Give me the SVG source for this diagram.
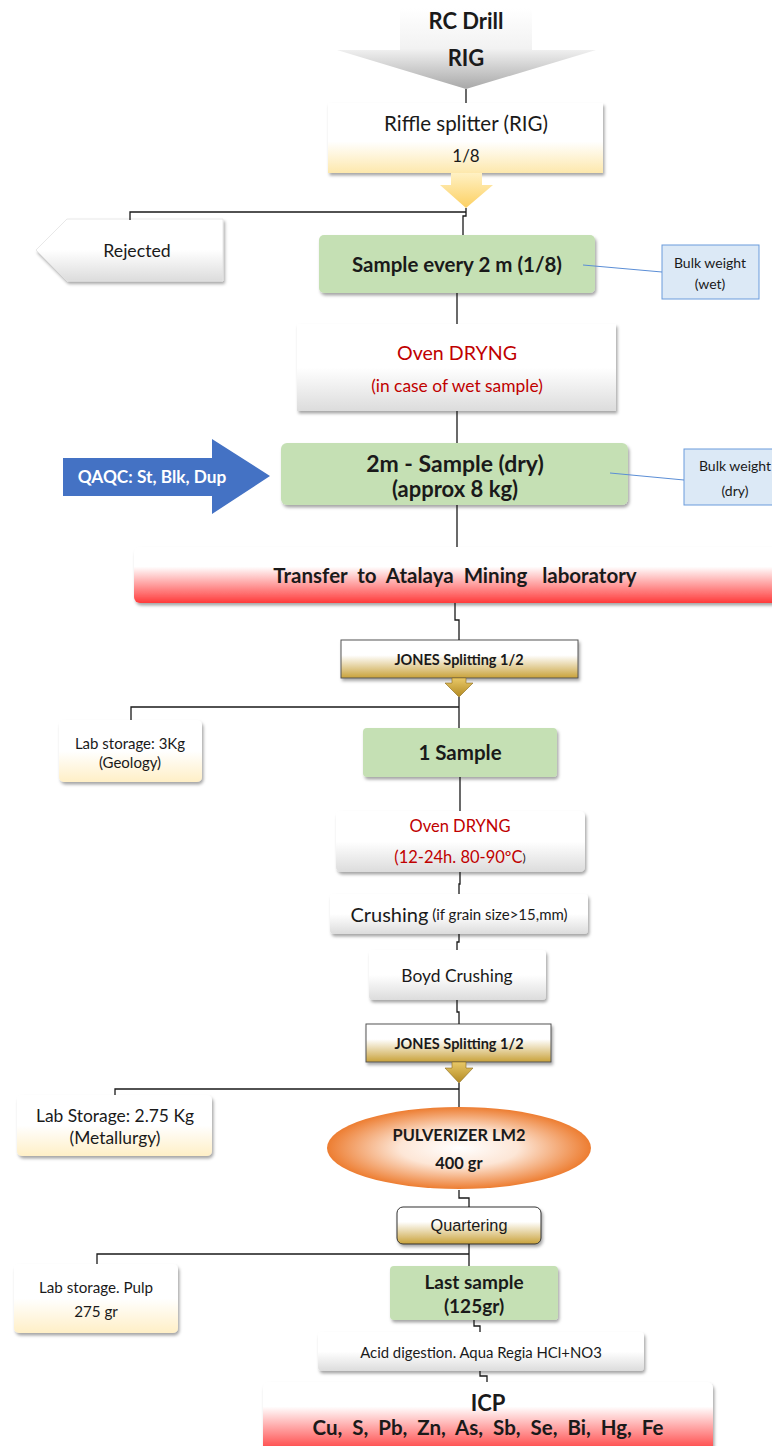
<svg xmlns="http://www.w3.org/2000/svg" width="772" height="1446" viewBox="0 0 772 1446">
<defs>
<linearGradient id="gGray" x1="0" y1="0" x2="0" y2="1"><stop offset="0" stop-color="#ffffff"/><stop offset="0.5" stop-color="#ffffff"/><stop offset="1" stop-color="#dcdcdc"/></linearGradient>
<linearGradient id="gYel" x1="0" y1="0" x2="0" y2="1"><stop offset="0" stop-color="#ffffff"/><stop offset="0.55" stop-color="#ffffff"/><stop offset="1" stop-color="#fde8ac"/></linearGradient>
<linearGradient id="gLab" x1="0" y1="0" x2="0" y2="1"><stop offset="0" stop-color="#ffffff"/><stop offset="0.5" stop-color="#ffffff"/><stop offset="1" stop-color="#ffefc6"/></linearGradient>
<linearGradient id="gGold" x1="0" y1="0" x2="0" y2="1"><stop offset="0" stop-color="#ffffff"/><stop offset="0.4" stop-color="#ffffff"/><stop offset="1" stop-color="#c9a23a"/></linearGradient>
<linearGradient id="gRed" x1="0" y1="0" x2="0" y2="1"><stop offset="0" stop-color="#ffffff"/><stop offset="0.35" stop-color="#ffffff"/><stop offset="1" stop-color="#ff3b3b"/></linearGradient>
<linearGradient id="gRC" x1="0" y1="0" x2="0" y2="1"><stop offset="0" stop-color="#ffffff"/><stop offset="0.5" stop-color="#f2f2f2"/><stop offset="1" stop-color="#a8a8a8"/></linearGradient>
<linearGradient id="gArY" x1="0" y1="0" x2="0" y2="1"><stop offset="0" stop-color="#fff1c4"/><stop offset="1" stop-color="#fcd062"/></linearGradient>
<linearGradient id="gArG" x1="0" y1="0" x2="0" y2="1"><stop offset="0" stop-color="#e8c868"/><stop offset="1" stop-color="#b38a22"/></linearGradient>
<radialGradient id="gOr" cx="0.5" cy="0.5" r="0.5"><stop offset="0" stop-color="#ffffff"/><stop offset="0.45" stop-color="#fde6d6"/><stop offset="1" stop-color="#ed7d31"/></radialGradient>
<filter id="sh" x="-10%" y="-20%" width="125%" height="150%"><feDropShadow dx="1.5" dy="2.5" stdDeviation="1.8" flood-color="#000" flood-opacity="0.35"/></filter>
</defs>
<style>
text{font-family:Lato,"Open Sans","DejaVu Sans",sans-serif;fill:#1a1a1a;text-anchor:middle;dominant-baseline:central}
.b{font-weight:bold}
.red{fill:#c00000}
.green{fill:#c5e0b4}
.conn{fill:none;stroke:#1a1a1a;stroke-width:1.3}
.blue{fill:none;stroke:#5b8ed6;stroke-width:1}
.bulk{fill:#dce9f6;stroke:#6a9bdc;stroke-width:1}
</style>

<g id="rc-drill">
<path d="M400,8 H532 V50 H596 L466,89 L337,50 H400 Z" fill="url(#gRC)"/>
<text x="466" y="20" class="b" font-size="22">RC Drill</text>
<text x="466" y="57" class="b" font-size="22">RIG</text>
</g>

<g id="riffle">
<rect x="328" y="103" width="275" height="70" fill="url(#gYel)" filter="url(#sh)"/>
<text x="466" y="123" font-size="20.5">Riffle splitter (RIG)</text>
<text x="466" y="155" font-size="17">1/8</text>
<path d="M451,173 H482 V185 H493 L466,208 L440,185 H451 Z" fill="url(#gArY)"/>
</g>

<g id="rejected">
<path d="M67,219 H223 V281 H67 L36,250 Z" fill="url(#gGray)" stroke="#e2e2e2" stroke-width="0.8" filter="url(#sh)"/>
<text x="137" y="250" font-size="17.7">Rejected</text>
</g>

<g id="sample-2m">
<rect x="319" y="235" width="276" height="58" rx="5" class="green" filter="url(#sh)"/>
<text x="457" y="264" class="b" font-size="20.5">Sample every 2 m (1/8)</text>
</g>

<g id="bulk-wet">
<rect x="662" y="245" width="97" height="54" class="bulk"/>
<text x="710" y="262" font-size="14">Bulk weight</text>
<text x="710" y="283" font-size="14">(wet)</text>
</g>

<g id="oven-1">
<rect x="297" y="324" width="319" height="87" fill="url(#gGray)" filter="url(#sh)"/>
<text x="457" y="352" class="red" font-size="19.6">Oven DRYNG</text>
<text x="457" y="385" class="red" font-size="17.4">(in case of wet sample)</text>
</g>

<g id="qaqc">
<path d="M63,458 H212 V439 L270,476 L212,514 V496 H63 Z" fill="#4472c4"/>
<text x="152" y="476" class="b" font-size="17.3" style="fill:#ffffff">QAQC: St, Blk, Dup</text>
</g>

<g id="sample-dry">
<rect x="281" y="443" width="347" height="62" rx="6" class="green" filter="url(#sh)"/>
<text x="455" y="463" class="b" font-size="23">2m - Sample (dry)</text>
<text x="455" y="488" class="b" font-size="22">(approx 8 kg)</text>
</g>

<g id="bulk-dry">
<rect x="684" y="449" width="100" height="56" class="bulk"/>
<text x="735" y="465" font-size="14">Bulk weight</text>
<text x="735" y="490" font-size="14">(dry)</text>
</g>

<g id="transfer">
<rect x="134" y="547" width="660" height="56" rx="6" fill="url(#gRed)" filter="url(#sh)"/>
<text x="455" y="575" class="b" font-size="20.5" xml:space="preserve">Transfer  to  Atalaya  Mining   laboratory</text>
</g>

<g id="jones-1">
<rect x="341" y="640" width="237" height="38" fill="url(#gGold)" stroke="#555" stroke-width="1" filter="url(#sh)"/>
<text x="459" y="659" class="b" font-size="14.5">JONES Splitting 1/2</text>
<path d="M452,678 H466 V683 H473 L459,697 L445,683 H452 Z" fill="url(#gArG)" stroke="#8a6a1a" stroke-width="0.6"/>
</g>

<g id="lab-geology">
<rect x="59" y="720" width="143" height="62" rx="5" fill="url(#gLab)" filter="url(#sh)"/>
<text x="130" y="743" font-size="15">Lab storage: 3Kg</text>
<text x="130" y="762" font-size="15">(Geology)</text>
</g>

<g id="one-sample">
<rect x="363" y="728" width="194" height="49" rx="4" class="green" filter="url(#sh)"/>
<text x="460" y="752" class="b" font-size="20.5">1 Sample</text>
</g>

<g id="oven-2">
<rect x="336" y="811" width="249" height="61" rx="5" fill="url(#gGray)" filter="url(#sh)"/>
<text x="460" y="826" class="red" font-size="16.5">Oven DRYNG</text>
<text x="460" y="857" font-size="16.5"><tspan class="red">(12-24h. 80-90ºC</tspan><tspan font-size="12">)</tspan></text>
</g>

<g id="crushing">
<rect x="330" y="894" width="258" height="40" rx="4" fill="url(#gGray)" filter="url(#sh)"/>
<text x="459" y="914" font-size="20">Crushing<tspan font-size="15"> (if grain size&gt;15,mm)</tspan></text>
</g>

<g id="boyd">
<rect x="369" y="950" width="177" height="50" rx="4" fill="url(#gGray)" filter="url(#sh)"/>
<text x="457" y="975" font-size="17.4">Boyd Crushing</text>
</g>

<g id="jones-2">
<rect x="366" y="1024" width="185" height="38" fill="url(#gGold)" stroke="#555" stroke-width="1" filter="url(#sh)"/>
<text x="459" y="1043" class="b" font-size="14.5">JONES Splitting 1/2</text>
<path d="M452,1062 H466 V1068 H473 L459,1083 L445,1068 H452 Z" fill="url(#gArG)" stroke="#8a6a1a" stroke-width="0.6"/>
</g>

<g id="lab-metallurgy">
<rect x="17" y="1095" width="195" height="61" rx="5" fill="url(#gLab)" filter="url(#sh)"/>
<text x="115" y="1115" font-size="17.4">Lab Storage: 2.75 Kg</text>
<text x="115" y="1137" font-size="17.4">(Metallurgy)</text>
</g>

<g id="pulverizer">
<ellipse cx="459" cy="1148" rx="132" ry="41" fill="url(#gOr)"/>
<text x="459" y="1134" class="b" font-size="16.4">PULVERIZER LM2</text>
<text x="459" y="1162" class="b" font-size="16.4">400 gr</text>
</g>

<g id="quartering">
<rect x="397" y="1207" width="144" height="37" rx="6" fill="url(#gGold)" stroke="#333" stroke-width="1" filter="url(#sh)"/>
<text x="469" y="1225" font-size="16.3" style="font-family:'Liberation Sans',Arial,sans-serif">Quartering</text>
</g>

<g id="lab-pulp">
<rect x="14" y="1264" width="164" height="69" rx="5" fill="url(#gLab)" filter="url(#sh)"/>
<text x="96" y="1287" font-size="15.2">Lab storage. Pulp</text>
<text x="96" y="1311" font-size="15.2">275 gr</text>
</g>

<g id="last-sample">
<rect x="390" y="1266" width="168" height="54" rx="4" class="green" filter="url(#sh)"/>
<text x="474" y="1281" class="b" font-size="19">Last sample</text>
<text x="474" y="1305" class="b" font-size="19">(125gr)</text>
</g>

<g id="acid">
<rect x="318" y="1332" width="326" height="39" rx="4" fill="url(#gGray)" filter="url(#sh)"/>
<text x="481" y="1352" font-size="14.9">Acid digestion. Aqua Regia HCl+NO3</text>
</g>

<g id="icp">
<rect x="263" y="1382" width="450" height="70" rx="6" fill="url(#gRed)" filter="url(#sh)"/>
<text x="488" y="1402" class="b" font-size="22">ICP</text>
<text x="488" y="1427" class="b" font-size="20.5" xml:space="preserve">Cu,  S,  Pb,  Zn,  As,  Sb,  Se,  Bi,  Hg,  Fe</text>
</g>

<g id="connectors">
<path class="conn" d="M466,89 V103"/>
<path class="conn" d="M466,208 V216 H463 V235"/>
<path class="conn" d="M466,212 H130 V220"/>
<path class="conn" d="M457,293 V324"/>
<path class="conn" d="M457,411 V443"/>
<path class="conn" d="M457,505 V547"/>
<path class="conn" d="M455,603 V620 H459 V640"/>
<path class="conn" d="M459,697 V728"/>
<path class="conn" d="M459,707 H131 V720"/>
<path class="conn" d="M460,777 V811"/>
<path class="conn" d="M460,872 V884 H459 V894"/>
<path class="conn" d="M459,934 V942 H457 V950"/>
<path class="conn" d="M457,1000 V1012 H459 V1024"/>
<path class="conn" d="M459,1083 V1107"/>
<path class="conn" d="M459,1089 H115 V1095"/>
<path class="conn" d="M459,1190 V1198 H469 V1207"/>
<path class="conn" d="M469,1244 V1266"/>
<path class="conn" d="M469,1254 H97 V1264"/>
<path class="conn" d="M474,1320 V1326 H480 V1332"/>
<path class="conn" d="M480,1371 V1376 H487 V1382"/>
<path class="blue" d="M583,265 L662,272"/>
<path class="blue" d="M610,473 L684,480"/>
</g>
</svg>
